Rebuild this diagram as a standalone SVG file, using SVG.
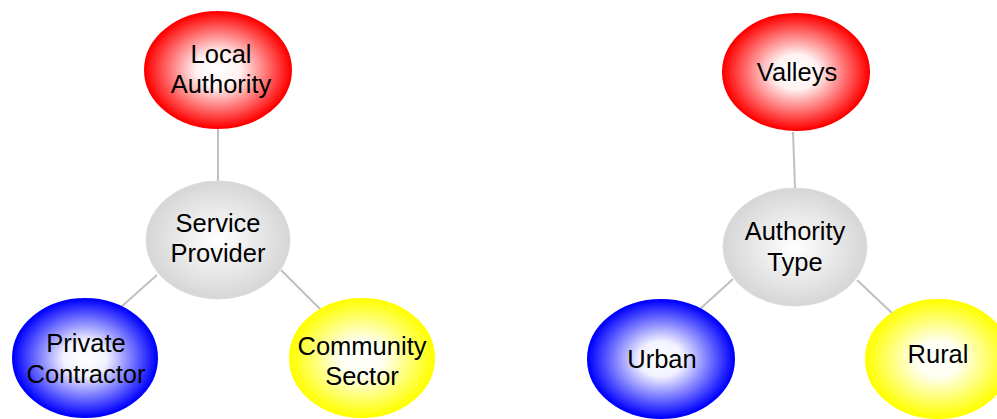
<svg xmlns="http://www.w3.org/2000/svg" width="997" height="419" viewBox="0 0 997 419">
<defs>
<radialGradient id="gRed" cx="50%" cy="50%" r="50%"><stop offset="0" stop-color="#ffffff"/><stop offset="0.3" stop-color="#fff2f2"/><stop offset="1" stop-color="#ff0000"/></radialGradient>
<radialGradient id="gBlue" cx="50%" cy="50%" r="50%"><stop offset="0" stop-color="#ffffff"/><stop offset="0.3" stop-color="#f2f2ff"/><stop offset="1" stop-color="#0000ff"/></radialGradient>
<radialGradient id="gYellow" cx="50%" cy="50%" r="50%"><stop offset="0" stop-color="#ffffff"/><stop offset="0.3" stop-color="#fffff2"/><stop offset="1" stop-color="#ffff00"/></radialGradient>
<radialGradient id="gGray" cx="50%" cy="50%" r="50%"><stop offset="0" stop-color="#ffffff"/><stop offset="1" stop-color="#d6d6d6"/></radialGradient>
</defs>
<style>
.lbl{font-family:"Liberation Sans",Arial,sans-serif;font-size:25.5px;fill:#000;text-anchor:middle}
.red{fill:url(#gRed);stroke:#ff0000;stroke-width:2}
.blue{fill:url(#gBlue);stroke:#0000ff;stroke-width:2}
.yellow{fill:url(#gYellow);stroke:#ffff00;stroke-width:2}
.gray{fill:url(#gGray);stroke:#dcdcdc;stroke-width:1}
.conn line{stroke:#c0c0c0;stroke-width:2}
</style>
<g id="connectors" class="conn">
<line x1="218" y1="128" x2="218" y2="182"/>
<line x1="157" y1="275" x2="121" y2="307"/>
<line x1="281" y1="270" x2="322" y2="311"/>
<line x1="793" y1="132" x2="795" y2="188"/>
<line x1="733" y1="279" x2="700" y2="309"/>
<line x1="857" y1="280" x2="893" y2="314"/>
</g>
<g id="local-authority"><ellipse class="red" cx="218" cy="70" rx="73" ry="58"/><text class="lbl" x="221" y="63">Local</text><text class="lbl" x="221" y="93">Authority</text></g>
<g id="service-provider"><ellipse class="gray" cx="218" cy="240" rx="72" ry="59"/><text class="lbl" x="218" y="232">Service</text><text class="lbl" x="218" y="262">Provider</text></g>
<g id="private-contractor"><ellipse class="blue" cx="85" cy="358" rx="72" ry="59"/><text class="lbl" x="86" y="352">Private</text><text class="lbl" x="86" y="383">Contractor</text></g>
<g id="community-sector"><ellipse class="yellow" cx="362" cy="358" rx="72" ry="59"/><text class="lbl" x="362" y="355">Community</text><text class="lbl" x="362" y="385">Sector</text></g>
<g id="valleys"><ellipse class="red" cx="796" cy="72" rx="73" ry="58"/><text class="lbl" x="797" y="81">Valleys</text></g>
<g id="authority-type"><ellipse class="gray" cx="795" cy="247" rx="72" ry="59"/><text class="lbl" x="795" y="240">Authority</text><text class="lbl" x="795" y="271">Type</text></g>
<g id="urban"><ellipse class="blue" cx="661" cy="359" rx="73" ry="59"/><text class="lbl" x="662" y="368">Urban</text></g>
<g id="rural"><ellipse class="yellow" cx="938" cy="359" rx="72" ry="59"/><text class="lbl" x="938" y="363">Rural</text></g>
</svg>
